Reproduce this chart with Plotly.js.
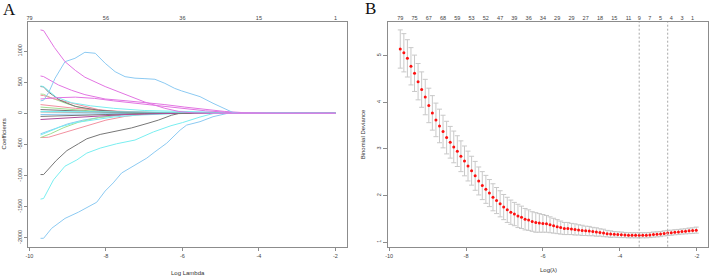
<!DOCTYPE html>
<html>
<head>
<meta charset="utf-8">
<script src="https://cdn.plot.ly/plotly-3.0.1.min.js"></script>
<style>html,body{margin:0;padding:0;background:#fff;}#chart{width:709px;height:276px;}</style>
</head>
<body>
<div id="chart"></div>
<script>
// ---------- Panel A: coefficient paths (Log Lambda vs coefficient) ----------
const magTopX = [-9.71,-9.63,-9.35,-9.07,-8.8,-8.55,-8.02,-7.5,-6.98,-6.46,-6.1,-5.7,-5.3,-2.0];
const magTopY = [1340,1330,1060,830,690,580,430,300,180,80,30,5,0,0];
const blueHumpX = [-9.71,-9.63,-9.5,-9.33,-9.07,-8.81,-8.55,-8.28,-8.02,-7.76,-7.5,-7.24,-6.98,-6.72,-6.46,-6.2,-6.02,-5.54,-5.2,-4.85,-4.67,-4.5,-2.0];
const blueHumpY = [200,210,330,563,830,884,981,965,804,669,589,565,557,547,482,400,360,268,161,53,10,0,0];
const magMidX = [-9.71,-9.63,-9.24,-8.9,-8.55,-8.02,-7.5,-6.98,-6.46,-5.94,-5.4,-4.9,-4.4,-3.9,-3.5,-2.0];
const magMidY = [600,590,455,370,300,230,203,175,140,100,60,30,10,2,0,0];
const magLowX = [-9.71,-9.3,-8.8,-8.3,-7.8,-7.2,-6.6,-6.0,-5.4,-4.8,-4.2,-3.8,-2.0];
const magLowY = [230,250,260,240,200,160,110,70,40,15,3,0,0];
const blackHiX = [-9.71,-9.63,-9.5,-9.2,-8.8,-8.2,-7.5,-6.5,-5.5,-2.0];
const blackHiY = [430,425,340,210,110,50,20,5,0,0];
const cyanHiX = [-9.71,-9.63,-9.3,-8.9,-8.4,-7.8,-7.0,-6.0,-5.0,-4.0,-3.0,-2.0];
const cyanHiY = [440,430,260,170,120,80,45,25,15,8,3,0];
const greenHiX = [-9.71,-9.63,-9.4,-9.0,-8.6,-8.2,-7.8,-2.0];
const greenHiY = [310,305,240,150,80,30,0,0];
const pinkHiX = [-9.71,-9.63,-9.4,-9.0,-8.6,-8.2,-7.6,-7.0,-2.0];
const pinkHiY = [290,285,240,180,110,60,20,0,0];
const pinkSmallX = [-9.71,-9.3,-8.8,-8.0,-7.0,-6.0,-2.0];
const pinkSmallY = [140,110,80,40,15,0,0];
const greenSmallX = [-9.71,-9.3,-8.8,-8.0,-7.0,-6.5,-2.0];
const greenSmallY = [100,80,50,20,5,0,0];
const blackPosX = [-9.71,-9.0,-8.0,-7.0,-6.0,-2.0];
const blackPosY = [60,40,20,8,0,0];
const blackNegX = [-9.71,-9.0,-8.0,-7.0,-6.5,-2.0];
const blackNegY = [-50,-35,-20,-5,0,0];
const purpleNegX = [-9.71,-9.2,-8.5,-7.5,-6.5,-6.0,-2.0];
const purpleNegY = [-100,-80,-50,-20,-5,0,0];
const cyanZeroX = [-9.71,-8.0,-6.0,-4.0,-3.0,-2.0];
const cyanZeroY = [30,25,20,12,5,2];
const grayZeroX = [-9.71,-9.0,-8.0,-7.0,-2.0];
const grayZeroY = [20,15,5,0,0];
const blueSmallX = [-9.71,-8.5,-7.0,-2.0];
const blueSmallY = [-20,-10,0,0];
const blueNegX = [-9.71,-9.63,-9.3,-9.0,-8.6,-8.2,-7.6,-7.0,-6.5,-2.0];
const blueNegY = [-330,-310,-240,-170,-110,-70,-30,-10,0,0];
const pinkNegX = [-9.71,-9.5,-9.2,-8.8,-8.4,-8.0,-7.5,-7.0,-6.5,-2.0];
const pinkNegY = [-390,-385,-330,-260,-180,-110,-50,-15,0,0];
const greenNegX = [-9.71,-9.45,-9.1,-8.7,-8.2,-7.6,-7.0,-2.0];
const greenNegY = [-390,-330,-230,-140,-70,-20,0,0];
const cyanNegX = [-9.71,-9.5,-9.2,-8.8,-8.3,-7.8,-7.2,-6.6,-6.0,-2.0];
const cyanNegY = [-350,-300,-220,-150,-100,-60,-30,-10,0,0];
const blackLowX = [-9.71,-9.63,-9.3,-9.02,-8.72,-8.5,-8.15,-7.8,-7.33,-6.9,-6.63,-6.28,-6.1,-5.8,-2.0];
const blackLowY = [-985,-985,-760,-600,-490,-410,-340,-290,-235,-160,-110,-30,-5,0,0];
const cyanLowX = [-9.71,-9.63,-9.37,-9.07,-8.76,-8.5,-8.15,-7.72,-7.24,-6.76,-6.3,-6.0,-5.54,-5.2,-5.0,-2.0];
const cyanLowY = [-1380,-1370,-1070,-850,-750,-640,-560,-490,-430,-300,-200,-150,-60,-5,0,0];
const blueLowX = [-9.71,-9.63,-9.42,-9.07,-8.72,-8.37,-8.24,-8.02,-7.81,-7.59,-7.28,-6.93,-6.72,-6.41,-6.06,-5.89,-5.54,-5.2,-4.85,-4.7,-2.0];
const blueLowY = [-2010,-2010,-1850,-1690,-1590,-1480,-1430,-1250,-1120,-960,-850,-720,-620,-480,-270,-190,-135,-55,-5,0,0];

const coefTickVals = [-10,-8,-6,-4,-2];
const coefTopLabels = ["79","56","36","15","1"];
const coefYTicks = [-2000,-1500,-1000,-500,0,500,1000];

// ---------- Panel B: cross-validation curve ----------
const cvX = [-9.710,-9.617,-9.525,-9.432,-9.339,-9.247,-9.154,-9.061,-8.968,-8.876,
  -8.783,-8.690,-8.598,-8.505,-8.412,-8.320,-8.227,-8.134,-8.041,-7.949,
  -7.856,-7.763,-7.671,-7.578,-7.485,-7.393,-7.300,-7.207,-7.114,-7.022,
  -6.929,-6.836,-6.744,-6.651,-6.558,-6.466,-6.373,-6.280,-6.187,-6.095,
  -6.002,-5.909,-5.817,-5.724,-5.631,-5.539,-5.446,-5.353,-5.260,-5.168,
  -5.075,-4.982,-4.890,-4.797,-4.704,-4.612,-4.519,-4.426,-4.333,-4.241,
  -4.148,-4.055,-3.963,-3.870,-3.777,-3.685,-3.592,-3.499,-3.406,-3.314,
  -3.221,-3.128,-3.036,-2.943,-2.850,-2.758,-2.665,-2.572,-2.479,-2.387,
  -2.294,-2.201,-2.109,-2.016];
const cvMean = [5.14,5.06,4.94,4.77,4.62,4.44,4.27,4.11,3.93,3.77,
  3.62,3.49,3.37,3.24,3.14,3.04,2.95,2.84,2.74,2.63,
  2.53,2.42,2.31,2.21,2.13,2.05,1.96,1.89,1.82,1.75,
  1.69,1.64,1.60,1.56,1.53,1.49,1.47,1.44,1.42,1.41,
  1.40,1.39,1.37,1.35,1.33,1.31,1.29,1.29,1.28,1.27,
  1.26,1.25,1.24,1.235,1.225,1.215,1.205,1.195,1.18,1.17,
  1.165,1.16,1.155,1.15,1.145,1.145,1.145,1.145,1.145,1.145,
  1.15,1.16,1.165,1.17,1.185,1.195,1.20,1.21,1.215,1.225,
  1.23,1.24,1.245,1.255];
const cvSE = [0.41,0.41,0.40,0.40,0.39,0.39,0.38,0.38,0.37,0.37,
  0.36,0.36,0.35,0.35,0.34,0.34,0.33,0.33,0.32,0.32,
  0.31,0.31,0.30,0.30,0.30,0.29,0.29,0.28,0.28,0.27,
  0.27,0.26,0.25,0.25,0.24,0.23,0.22,0.21,0.21,0.20,
  0.19,0.18,0.17,0.16,0.15,0.14,0.13,0.13,0.12,0.12,
  0.11,0.11,0.10,0.10,0.09,0.09,0.08,0.08,0.07,0.07,
  0.06,0.06,0.06,0.055,0.055,0.055,0.055,0.055,0.055,0.055,
  0.055,0.055,0.055,0.055,0.055,0.055,0.055,0.055,0.055,0.055,
  0.055,0.06,0.06,0.065];
const nzTickX = [-9.710,-9.339,-8.968,-8.598,-8.227,-7.856,-7.485,-7.114,-6.744,-6.373,
  -6.002,-5.631,-5.260,-4.890,-4.519,-4.148,-3.777,-3.499,-3.221,-2.943,-2.665,-2.387,-2.109];
const nzLabels = ["79","75","67","68","59","53","52","47","39","36",
  "34","29","29","27","18","15","11","9","7","5","4","3","1"];
const cvYTicks = [1,2,3,4,5];
const lambdaMinX = cvX[67];
const lambda1seX = cvX[75];

const C = {
  blue:'#8ccaf2', cyan:'#7aeef0', magenta:'#e275e2', black:'#777777',
  pink:'#f291a0', green:'#a2e094', purple:'#b04a9a', gray:'#b0b0b0'
};
function path(x, y, color) {
  return {x:x, y:y, type:'scatter', mode:'lines', xaxis:'x', yaxis:'y',
    line:{color:color, width:1}, hoverinfo:'skip'};
}
const traces = [
  path(greenHiX, greenHiY, C.green),
  path(pinkHiX, pinkHiY, C.pink),
  path(pinkSmallX, pinkSmallY, C.pink),
  path(greenSmallX, greenSmallY, C.green),
  path(grayZeroX, grayZeroY, C.gray),
  path(blueSmallX, blueSmallY, C.blue),
  path(blueNegX, blueNegY, C.blue),
  path(pinkNegX, pinkNegY, C.pink),
  path(greenNegX, greenNegY, C.green),
  path(cyanNegX, cyanNegY, C.cyan),
  path(blackHiX, blackHiY, C.black),
  path(cyanHiX, cyanHiY, C.cyan),
  path(blackPosX, blackPosY, C.black),
  path(blackNegX, blackNegY, C.black),
  path(purpleNegX, purpleNegY, C.purple),
  path(cyanZeroX, cyanZeroY, C.cyan),
  path(blackLowX, blackLowY, C.black),
  path(cyanLowX, cyanLowY, C.cyan),
  path(blueLowX, blueLowY, C.blue),
  path(magLowX, magLowY, C.magenta),
  path(magMidX, magMidY, C.magenta),
  path(blueHumpX, blueHumpY, C.blue),
  path(magTopX, magTopY, C.magenta),
  {x:cvX, y:cvMean, type:'scatter', mode:'markers', xaxis:'x2', yaxis:'y2',
    marker:{color:'#ff1010', size:3},
    error_y:{type:'data', array:cvSE, visible:true, color:'#c8c8c8', thickness:1, width:2.5},
    hoverinfo:'skip'},
  // invisible carriers for the top axes
  {x:[-10,-2], y:[0,0], type:'scatter', mode:'markers', xaxis:'x3', yaxis:'y',
    marker:{opacity:0}, hoverinfo:'skip'},
  {x:[-10,-2], y:[1,1], type:'scatter', mode:'markers', xaxis:'x4', yaxis:'y2',
    marker:{opacity:0}, hoverinfo:'skip'}
];

const F = 'Arial';
const boxCol = '#8c8c8c';
const tickFont = {family:F, size:5.5, color:'#444'};
const baseAxis = {showgrid:false, zeroline:false, showline:true, mirror:true,
  linecolor:boxCol, linewidth:1, ticks:'outside', ticklen:3.5, tickwidth:1, tickcolor:boxCol,
  tickfont:tickFont, fixedrange:true};

const layout = {
  width:709, height:276, margin:{l:0, r:0, t:0, b:0},
  paper_bgcolor:'#fff', plot_bgcolor:'#fff', showlegend:false,
  font:{family:F},
  xaxis: Object.assign({}, baseAxis, {domain:[0.0399,0.4898], range:[-10.03,-1.69], anchor:'y',
    tickmode:'array', tickvals:coefTickVals, ticktext:coefTickVals.map(String)}),
  yaxis: Object.assign({}, baseAxis, {domain:[0.1062,0.9203], range:[-2145,1468], anchor:'x',
    tickmode:'array', tickvals:coefYTicks, ticktext:coefYTicks.map(String), tickangle:-90}),
  xaxis3: {overlaying:'x', side:'top', anchor:'y', range:[-10.03,-1.69], showgrid:false,
    zeroline:false, showline:false, ticks:'', tickmode:'array', tickvals:coefTickVals,
    ticktext:coefTopLabels, tickfont:tickFont, fixedrange:true},
  xaxis2: Object.assign({}, baseAxis, {domain:[0.5472,0.9986], range:[-10.03,-1.71], anchor:'y2',
    tickmode:'array', tickvals:coefTickVals, ticktext:coefTickVals.map(String)}),
  yaxis2: Object.assign({}, baseAxis, {domain:[0.1062,0.9203], range:[0.9,5.72], anchor:'x2',
    tickmode:'array', tickvals:cvYTicks, ticktext:cvYTicks.map(String), tickangle:-90}),
  xaxis4: {overlaying:'x2', side:'top', anchor:'y2', range:[-10.03,-1.71], showgrid:false,
    zeroline:false, showline:false, ticks:'', tickmode:'array', tickvals:nzTickX,
    ticktext:nzLabels, tickfont:tickFont, fixedrange:true},
  shapes: [
    {type:'line', xref:'x2', yref:'y2 domain', x0:lambdaMinX, x1:lambdaMinX, y0:0, y1:1,
      line:{color:'#a8a8a8', width:1, dash:'2px,2px'}},
    {type:'line', xref:'x2', yref:'y2 domain', x0:lambda1seX, x1:lambda1seX, y0:0, y1:1,
      line:{color:'#a8a8a8', width:1, dash:'2px,2px'}}
  ],
  annotations: [
    {text:'A', xref:'paper', yref:'paper', x:9.7/709, y:1-9/276, xanchor:'center', yanchor:'middle',
      showarrow:false, font:{family:'Liberation Serif, Times New Roman, serif', size:17, color:'#111'}},
    {text:'B', xref:'paper', yref:'paper', x:370.2/709, y:1-8/276, xanchor:'center', yanchor:'middle',
      showarrow:false, font:{family:'Liberation Serif, Times New Roman, serif', size:17, color:'#111'}},
    {text:'Log Lambda', xref:'paper', yref:'paper', x:187.8/709, y:1-272.5/276, xanchor:'center', yanchor:'middle',
      showarrow:false, font:{family:F, size:6, color:'#333'}},
    {text:'Coefficients', xref:'paper', yref:'paper', x:4.2/709, y:1-134.3/276, xanchor:'center', yanchor:'middle',
      textangle:-90, showarrow:false, font:{family:F, size:6, color:'#333'}},
    {text:'Log(\u03bb)', xref:'paper', yref:'paper', x:548/709, y:1-270/276, xanchor:'center', yanchor:'middle',
      showarrow:false, font:{family:F, size:6, color:'#333'}},
    {text:'Binomial Deviance', xref:'paper', yref:'paper', x:363/709, y:1-134.3/276, xanchor:'center', yanchor:'middle',
      textangle:-90, showarrow:false, font:{family:F, size:6, color:'#333'}}
  ]
};

Plotly.newPlot('chart', traces, layout, {staticPlot:true, displayModeBar:false});
</script>
</body>
</html>
